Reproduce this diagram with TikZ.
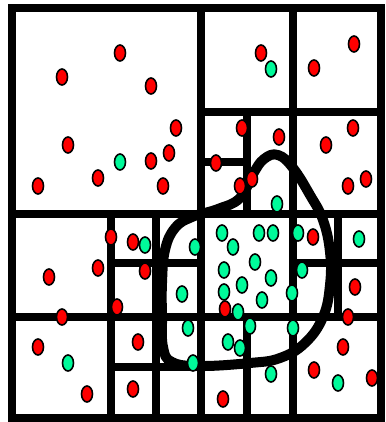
\documentclass[tikz,border=0pt]{standalone}
\usetikzlibrary{shapes.geometric}
\definecolor{mint}{RGB}{0,250,154}

\begin{document}
\begin{tikzpicture}[
    x=1pt, y=-1pt,
    cell/.style={line width=8pt, line cap=rect},
    region/.style={line width=10pt, line join=round},
    dot/.style={draw, ellipse, line width=1.6pt, minimum width=11pt, minimum height=16pt, inner sep=0pt},
    outside/.style={dot, fill=red},
    inside/.style={dot, fill=mint}
]
\useasboundingbox (0,0) rectangle (385,422);

% subdivision of the plane
\draw[cell] (12,8) rectangle (381,418);
\draw[cell] (201,8) -- (201,418);
\draw[cell] (12,214) -- (381,214);
\draw[cell] (293,8) -- (293,418);
\draw[cell] (201,112) -- (381,112);
\draw[cell] (247,112) -- (247,214);
\draw[cell] (201,162) -- (247,162);
\draw[cell] (111,214) -- (111,418);
\draw[cell] (156,214) -- (156,418);
\draw[cell] (12,317) -- (381,317);
\draw[cell] (111,263) -- (201,263);
\draw[cell] (111,367) -- (201,367);
\draw[cell] (293,263) -- (381,263);
\draw[cell] (338,214) -- (338,317);
\draw[cell] (247,317) -- (247,418);

% the region
\draw[region] plot[smooth cycle, tension=0.7] coordinates {
    (264,159) (278,155) (293,168) (310,195) (323,220) (330,252) (330,285) (323,317)
    (305,343) (280,358) (250,363) (200,366) (172,362) (163,347) (162,317)
    (162,283) (165,250) (175,228) (192,217) (218,209) (240,198) (253,174)};

% points outside
\foreach \x/\y [count=\i] in {120/53, 62/77, 151/86, 176/128, 68/145, 169/153,
    151/161, 98/178, 38/186, 163/186, 261/53, 354/44, 314/68, 242/128, 279/137,
    353/128, 326/145, 216/163, 240/186, 252/179, 348/186, 366/179, 111/237,
    133/242, 98/268, 49/277, 145/271, 117/307, 62/317, 138/342, 38/347, 133/389,
    87/394, 313/237, 355/287, 225/309, 348/317, 343/347, 314/370, 372/378, 223/399}
    \node[outside] (r\i) at (\x,\y) {};

% points inside
\foreach \x/\y [count=\i] in {120/162, 271/69, 277/204, 145/245, 195/247, 182/294,
    188/328, 68/363, 193/363, 222/233, 233/247, 259/233, 273/233, 298/233,
    359/239, 255/262, 224/270, 302/270, 271/278, 242/285, 224/292, 292/293,
    262/300, 238/312, 250/326, 293/328, 228/342, 240/348, 271/374, 338/383}
    \node[inside] (g\i) at (\x,\y) {};
\end{tikzpicture}
\end{document}
